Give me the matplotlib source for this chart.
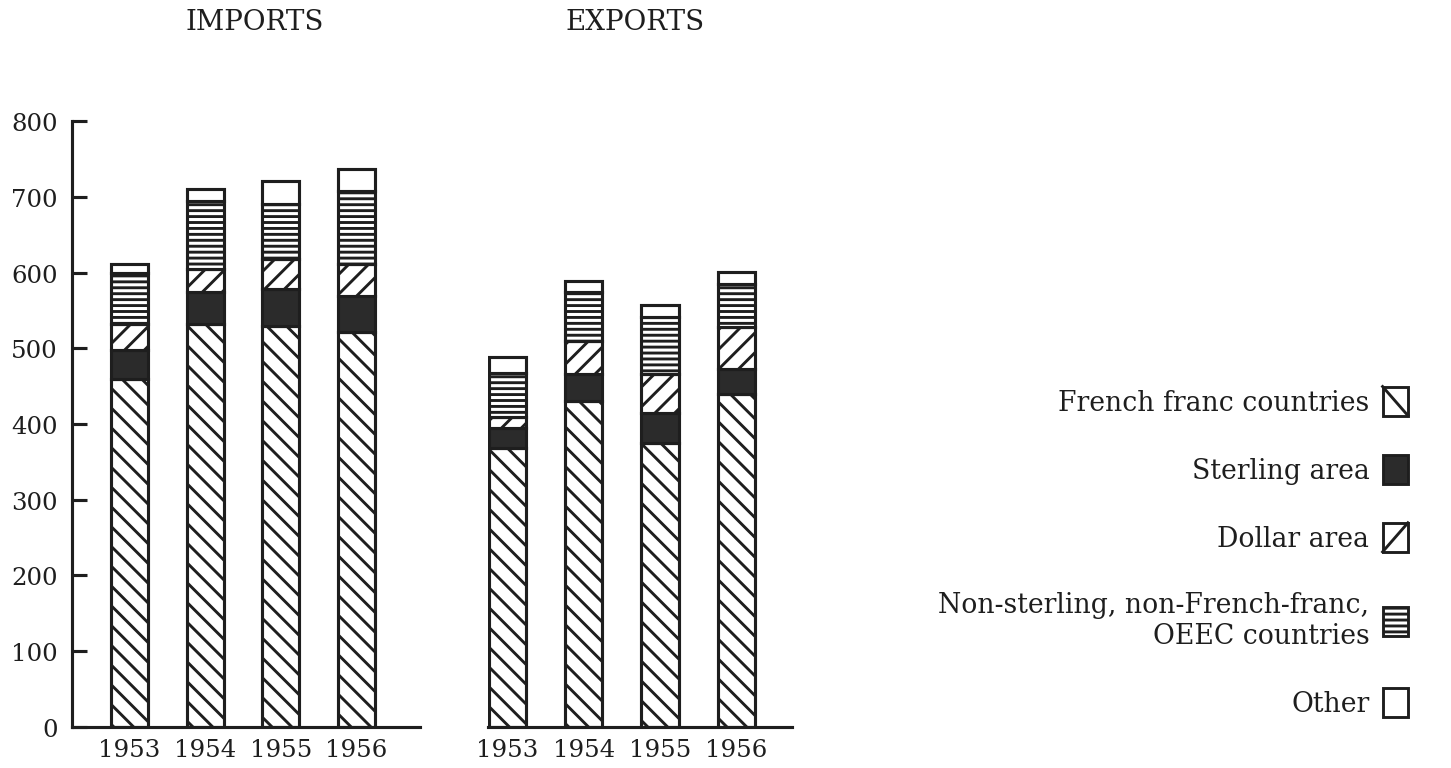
import matplotlib

matplotlib.use("Agg")
import matplotlib.pyplot as plt
import numpy as np
from matplotlib.legend_handler import HandlerBase
from matplotlib.lines import Line2D
from matplotlib.patches import Patch, Rectangle

years = ["1953", "1954", "1955", "1956"]

# segment sizes (bottom to top)
imp_french = [459, 532, 530, 521]
imp_sterling = [39, 42, 49, 48]
imp_dollar = [34, 31, 39, 43]
imp_oeec = [67, 89, 73, 96]
imp_other = [13, 17, 30, 29]

exp_french = [368, 430, 375, 439]
exp_sterling = [27, 36, 40, 33]
exp_dollar = [14, 44, 51, 56]
exp_oeec = [59, 64, 75, 57]
exp_other = [21, 15, 16, 16]

labels = [
    "French franc countries",
    "Sterling area",
    "Dollar area",
    "Non-sterling, non-French-franc,\nOEEC countries",
    "Other",
]
yticks = [0, 100, 200, 300, 400, 500, 600, 700, 800]

INK = "#1e1e1e"
DARK = "#2b2b2b"
bar_styles = [
    dict(facecolor="white", hatch="\\\\\\"),
    dict(facecolor=DARK, hatch=None),
    dict(facecolor="white", hatch="///"),
    dict(facecolor="white", hatch="-----"),
    dict(facecolor="white", hatch=None),
]

# dpi picked so the hatch spacing matches the scan; S keeps sizes in pixels
DPI = 178
S = 160 / DPI

plt.rcParams["font.family"] = ["DejaVu Serif"]
plt.rcParams["hatch.linewidth"] = 1.3 * S
plt.rcParams["text.color"] = INK


class BoxHandler(HandlerBase):
    """Legend key: a box with one diagonal, like the printed key."""

    def __init__(self, diag=None):
        super().__init__()
        self.diag = diag

    def create_artists(self, legend, orig_handle, xdescent, ydescent,
                       width, height, fontsize, trans):
        x0, y0 = -xdescent, -ydescent
        rect = Rectangle((x0, y0), width, height,
                         facecolor=orig_handle.get_facecolor(),
                         edgecolor=INK, linewidth=1.3 * S,
                         hatch=orig_handle.get_hatch(), transform=trans)
        arts = [rect]
        if self.diag == "\\":
            arts.append(Line2D([x0, x0 + width], [y0 + height, y0],
                               color=INK, lw=1.3 * S, transform=trans))
        elif self.diag == "/":
            arts.append(Line2D([x0, x0 + width], [y0, y0 + height],
                               color=INK, lw=1.3 * S, transform=trans))
        return arts


fig = plt.figure(figsize=(1451 / DPI, 769 / DPI), dpi=DPI)

ax_imp = fig.add_axes([0.0496, 0.0537, 0.2398, 0.7873])
ax_exp = fig.add_axes([0.3363, 0.0537, 0.2095, 0.7873])


def draw(ax, segs):
    x = np.arange(len(years))
    bottom = np.zeros(len(years))
    for vals, st in zip(segs, bar_styles):
        ax.bar(x, vals, width=0.49, bottom=bottom, edgecolor=INK,
               linewidth=1.4 * S, **st)
        bottom += np.array(vals)
    ax.set_xticks(x)
    ax.set_xticklabels(years, fontsize=11 * S)
    ax.tick_params(axis="x", length=0, pad=5 * S, colors=INK)
    ax.set_ylim(0, 800)
    for s in ["top", "right"]:
        ax.spines[s].set_visible(False)
    ax.spines["bottom"].set_linewidth(1.4 * S)
    ax.spines["bottom"].set_color(INK)


draw(ax_imp, [imp_french, imp_sterling, imp_dollar, imp_oeec, imp_other])
draw(ax_exp, [exp_french, exp_sterling, exp_dollar, exp_oeec, exp_other])

ax_imp.set_xlim(-0.76, 3.84)
ax_imp.set_yticks(yticks)
ax_imp.tick_params(axis="y", direction="in", length=6.8 * S, width=1.4 * S,
                   pad=6.5 * S, labelsize=11 * S, colors=INK)
ax_imp.spines["left"].set_linewidth(1.4 * S)
ax_imp.spines["left"].set_color(INK)

ax_exp.set_xlim(-0.256, 3.73)
ax_exp.spines["left"].set_visible(False)
ax_exp.set_yticks([])

fig.text(255 / 1451, 1 - 22 / 769, "IMPORTS", ha="center", va="center",
         fontsize=12.5 * S)
fig.text(635 / 1451, 1 - 22 / 769, "EXPORTS", ha="center", va="center",
         fontsize=12.5 * S)

h_french = Patch(facecolor="white")
h_sterling = Patch(facecolor=DARK)
h_dollar = Patch(facecolor="white")
h_oeec = Patch(facecolor="white", hatch="-----")
h_other = Patch(facecolor="white")
handles = [h_french, h_sterling, h_dollar, h_oeec, h_other]
hmap = {
    h_french: BoxHandler("\\"),
    h_sterling: BoxHandler(),
    h_dollar: BoxHandler("/"),
    h_oeec: BoxHandler(),
    h_other: BoxHandler(),
}
leg = fig.legend(handles, labels, loc="center right",
                 bbox_to_anchor=(0.9795, 0.281), frameon=False,
                 markerfirst=False, fontsize=12 * S, handlelength=0.95,
                 handleheight=1.3, handletextpad=0.5, labelspacing=1.45,
                 borderpad=0, handler_map=hmap)
for t in leg.get_texts():
    t.set_multialignment("right")

fig.savefig("out.png", dpi=DPI)
